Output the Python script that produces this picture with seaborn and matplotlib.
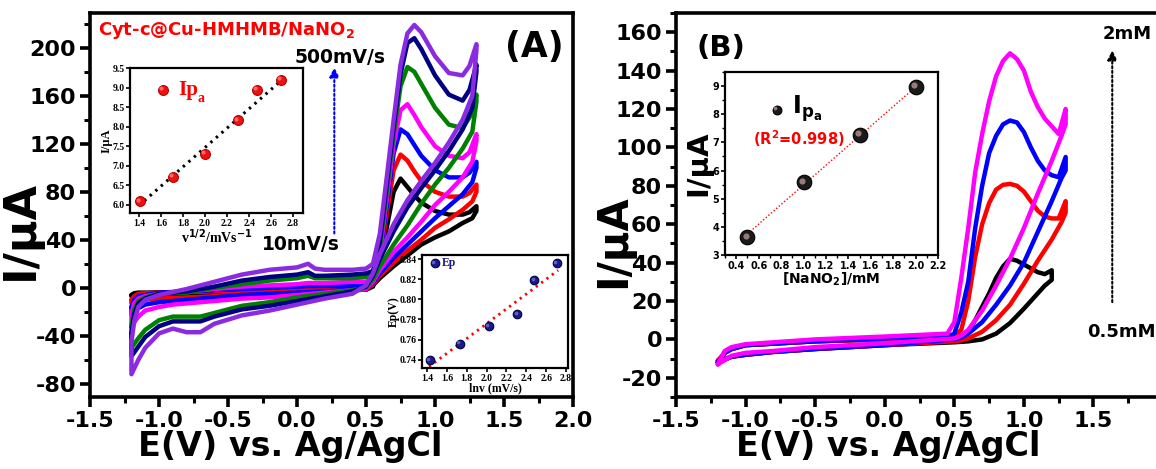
import matplotlib
matplotlib.use("Agg")
import matplotlib.pyplot as plt
import matplotlib.transforms as mtransforms
import numpy as np
import pandas as pd
import seaborn as sns

# ---------------- panel A : scan rate series (10 -> 500 mV/s) ----------------
E_A_fwd = [-1.2, -1.18, -1.15, -1.1, -1.0, -0.8, -0.6, -0.4, -0.2, 0.0, 0.08, 0.13, 0.2, 0.4, 0.5,
           0.55, 0.6, 0.65, 0.7, 0.75, 0.8, 0.85, 0.9, 1.0, 1.1, 1.2, 1.25, 1.3]
E_A_rev = [1.3, 1.27, 1.2, 1.1, 1.0, 0.9, 0.8, 0.7, 0.6, 0.55, 0.5, 0.4, 0.2, 0.0, -0.2, -0.4,
           -0.6, -0.7, -0.8, -0.9, -1.0, -1.1, -1.15, -1.2]

A_colors = ["black", "red", "blue", "magenta", "green", "navy", "#8a2be2"]

A_fwd = [
    [-6, -4.5, -4, -4, -3.8, -3.5, -3, -3, -2.5, -2.5, -2, -2, -2, -1.8, -1.5,
     1, 20, 50, 80, 91, 84, 77, 71, 64, 61, 61, 63, 68],
    [-10, -7, -5, -4.5, -4, -3.5, -3, -2.5, -2, -1.5, -1, -1, -1, -0.5, 0,
     3, 22, 62, 98, 111, 106, 97, 89, 80, 76, 76, 79, 86],
    [-16, -10, -7, -6, -4, -3, -2, -1, 0, 1, 1.5, 1.5, 1.5, 2, 2.5,
     5, 26, 68, 112, 132, 128, 119, 110, 98, 92, 92, 96, 105],
    [-22, -13, -9, -7, -5, -3, -1, 1, 2, 3, 4, 4, 4, 5, 5,
     8, 29, 74, 120, 148, 153, 144, 134, 118, 110, 108, 113, 128],
    [-32, -18, -11, -8, -5, -4, 0, 3, 6, 8, 10, 8, 8, 8, 9,
     11, 33, 80, 128, 168, 184, 180, 170, 150, 136, 133, 142, 161],
    [-38, -22, -13, -9, -5, -3, 1, 6, 9, 11, 13, 10, 10, 11, 12,
     14, 38, 86, 134, 178, 204, 208, 199, 177, 161, 156, 165, 186],
    [-45, -28, -16, -10, -6, -1, 5, 11, 15, 17, 20, 16, 15, 15, 16,
     20, 45, 92, 140, 186, 212, 219, 213, 193, 179, 177, 185, 203],
]
A_rev = [
    [64, 58, 54, 47, 42, 36, 27, 18, 8, 2, -1.5, -2, -3, -3.5, -4, -4.5,
     -5, -5, -5.5, -5.5, -6, -6, -6.5, -7],
    [80, 72, 65, 57, 50, 40, 31, 21, 10, 3, -1.5, -2, -3, -4, -5, -6,
     -7, -7.5, -8, -8.5, -9, -10, -11, -13],
    [100, 88, 78, 68, 58, 47, 36, 25, 12, 4, -1, -1.5, -3, -4, -5, -6,
     -8, -9, -10, -11, -12, -14, -17, -21],
    [122, 105, 92, 80, 69, 55, 42, 30, 15, 5, -1, -2, -4, -6, -8, -9,
     -11, -12, -13, -14, -16, -19, -24, -32],
    [155, 130, 116, 100, 86, 70, 52, 36, 18, 7, 0, -2, -5, -8, -12, -15,
     -21, -24, -24, -24, -27, -35, -42, -50],
    [180, 150, 132, 114, 98, 83, 67, 47, 24, 10, 1, -3, -7, -11, -15, -18,
     -24, -28, -28, -28, -32, -41, -49, -57],
    [198, 160, 140, 121, 104, 89, 73, 53, 28, 12, 2, -5, -9, -14, -19, -23,
     -30, -37, -37, -34, -38, -50, -60, -72],
]

# inset A1 : Ipa vs v^1/2
ipa_x = [1.41, 1.71, 2.0, 2.3, 2.47, 2.69]
ipa_y = [6.09, 6.71, 7.31, 8.16, 8.94, 9.2]
ipa_fit_x = [1.4, 2.7]
ipa_fit_y = [5.98, 9.2]

# inset A2 : Ep vs ln v
ep_x = [1.43, 1.73, 2.02, 2.31, 2.48, 2.71]
ep_y = [0.7393, 0.7559, 0.7731, 0.785, 0.8191, 0.836]
ep_fit_x = [1.42, 2.72]
ep_fit_y = [0.733, 0.829]

# ---------------- panel B : NaNO2 concentration series ----------------
E_B_fwd = [-1.2, -1.15, -1.1, -1.0, -0.5, 0.0, 0.45, 0.5, 0.55, 0.6, 0.65, 0.7, 0.75, 0.8,
           0.85, 0.9, 0.95, 1.0, 1.05, 1.1, 1.15, 1.2, 1.25, 1.3]
E_B_rev = [1.3, 1.27, 1.2, 1.1, 1.0, 0.9, 0.8, 0.7, 0.6, 0.55, 0.5, 0.0, -0.5, -0.8, -1.0, -1.1, -1.2]
E_B0_fwd = [-1.2, -1.15, -1.1, -1.0, -0.5, 0.0, 0.45, 0.5, 0.55, 0.6, 0.65, 0.7, 0.75, 0.8,
            0.85, 0.9, 0.95, 1.0, 1.05, 1.1, 1.15, 1.2]
E_B0_rev = [1.2, 1.15, 1.1, 1.0, 0.9, 0.8, 0.7, 0.6, 0.5, 0.0, -0.5, -0.8, -1.0, -1.1, -1.2]

B0_fwd = [-12, -7, -5, -3, -1, 0, 0.5, 0.5, 1, 4, 10, 17, 24, 32, 38, 42, 41, 39, 37, 35, 34, 36]
B0_rev = [31, 28, 24, 16, 8.5, 3, 0, -1, -1.5, -3, -5, -6.5, -8, -9, -12]
B1_fwd = [-11, -7, -5, -3, -1, 0, 1, 1.5, 5, 20, 43, 60, 71, 78, 80.5, 81, 80, 77, 72, 67, 64, 63, 63, 72]
B1_rev = [66, 61, 52, 41, 29, 18, 10, 4, 0.5, -0.5, -1, -3, -5, -6.5, -8, -9, -11]
B2_fwd = [-12, -7, -5, -3, -1, 0.5, 1.5, 3, 14, 30, 58, 80, 97, 106, 112, 114, 113, 108, 100, 93, 88,
          85.5, 84.5, 95]
B2_rev = [88, 84, 72, 56, 40, 28, 18, 9, 3, 1, 0, -3, -5, -6.5, -8, -9, -12]
B3_fwd = [-13, -6, -4, -2.5, 0, 1.5, 3, 9, 32, 58, 87, 107, 124, 137, 145, 149, 146, 140, 129, 121,
          115, 111, 107, 120]
B3_rev = [112, 106, 93, 76, 58, 42, 28, 15, 5, 2, 0.5, -2, -4, -6, -7, -8.5, -13]

# inset B : Ipa vs [NaNO2]
conc = [0.5, 1.0, 1.5, 2.0]
conc_ipa = [3.63, 5.58, 7.26, 8.98]
conc_fit_y = [3.75, 8.97]


sns.set_style("ticks")
plt.rcParams["font.family"] = ["DejaVu Sans"]
plt.rcParams["font.weight"] = "bold"
plt.rcParams["axes.labelweight"] = "bold"
plt.rcParams["mathtext.fontset"] = "custom"
plt.rcParams["mathtext.rm"] = "DejaVu Sans:bold"
plt.rcParams["mathtext.it"] = "DejaVu Sans:bold"
plt.rcParams["mathtext.bf"] = "DejaVu Sans:bold"
for key in ["text.color", "axes.labelcolor", "xtick.color", "ytick.color", "axes.edgecolor"]:
    plt.rcParams[key] = "black"

fig = plt.figure(figsize=(11.56, 4.69), dpi=100)

SERIF = "Liberation Serif"


def cv_loop(ax, ef, i_f, er, i_r, color, lw=3.2):
    x = list(ef) + list(er) + [ef[0]]
    y = list(i_f) + list(i_r) + [i_f[0]]
    df = pd.DataFrame({"E": x, "I": y})
    sns.lineplot(data=df, x="E", y="I", sort=False, estimator=None, color=color,
                 lw=lw, ax=ax, solid_joinstyle="round", solid_capstyle="round")


def spheres(ax, x, y, color, size, edge, hl="white"):
    sns.scatterplot(x=x, y=y, color=color, s=size, edgecolor=edge, linewidth=0.8, ax=ax, zorder=5)
    off = mtransforms.offset_copy(ax.transData, fig=fig, x=-1.2, y=1.2, units="points")
    ax.scatter(x, y, s=size * 0.18, color=hl, alpha=0.55, zorder=6, linewidths=0,
               transform=off)


def style_main(ax, xlab_x, ylab_y, ylab_x, ylab_size):
    for sp in ax.spines.values():
        sp.set_linewidth(2.6)
    ax.tick_params(which="major", direction="out", length=7, width=2.6, labelsize=16,
                   top=False, right=False, pad=3)
    ax.tick_params(which="minor", direction="out", length=4, width=2.2, top=False, right=False)
    ax.set_xlabel("E(V) vs. Ag/AgCl", fontsize=24)
    ax.set_ylabel("I/\u03bcA", fontsize=ylab_size)
    ax.xaxis.set_label_coords(xlab_x, -0.085)
    ax.yaxis.set_label_coords(ylab_x, ylab_y)


def style_inset(ax, serif):
    for sp in ax.spines.values():
        sp.set_linewidth(1.6)
    ax.tick_params(which="major", direction="out", length=3, width=1.2, labelsize=7, pad=1)
    ax.tick_params(which="minor", direction="out", length=2, width=1.0)
    if serif:
        for lab in ax.get_xticklabels() + ax.get_yticklabels():
            lab.set_fontfamily(SERIF)


# ================= panel A =================
axA = fig.add_axes([0.0779, 0.1535, 0.4178, 0.8188])
for col, f, r in zip(A_colors, A_fwd, A_rev):
    cv_loop(axA, E_A_fwd, f, E_A_rev, r, col)
axA.set_xlim(-1.5, 2.0)
axA.set_ylim(-91, 229)
axA.set_xticks(np.arange(-1.5, 2.01, 0.5))
axA.set_xticks(np.arange(-1.5, 2.01, 0.25), minor=True)
axA.set_yticks(np.arange(-80, 201, 40))
axA.set_yticks(np.arange(-80, 221, 20), minor=True)
axA.set_xticklabels(["-1.5", "-1.0", "-0.5", "0.0", "0.5", "1.0", "1.5", "2.0"])
axA.set_yticklabels(["-80", "-40", "0", "40", "80", "120", "160", "200"])
style_main(axA, 0.414, 0.435, -0.099, 32)

axA.text(-1.44, 214, "Cyt-c@Cu-HMHMB/NaNO$_2$", color="red", fontsize=13, va="center", ha="left")
axA.text(1.72, 201, "(A)", fontsize=25, ha="center", va="center")
axA.text(0.31, 192, "500mV/s", fontsize=13.5, ha="center", va="center")
axA.text(0.03, 36, "10mV/s", fontsize=13.5, ha="center", va="center")
axA.annotate("", xy=(0.27, 186), xytext=(0.27, 43),
             arrowprops=dict(arrowstyle="-|>", color="blue", lw=1.5, linestyle=(0, (1, 1.2)),
                             mutation_scale=14))

# inset A1
ax1 = fig.add_axes([0.1125, 0.5458, 0.1497, 0.3092])
sns.lineplot(x=ipa_fit_x, y=ipa_fit_y, color="black", lw=2.2, linestyle=(0, (0.8, 1.6)), ax=ax1)
spheres(ax1, ipa_x, ipa_y, "#ee1111", 50, "#b00000", "#ffb0b0")
spheres(ax1, [1.62], [8.94], "#ee1111", 50, "#b00000", "#ffb0b0")
ax1.text(1.76, 8.95, "Ip", color="red", fontsize=15, family=SERIF, va="center")
ax1.text(1.93, 8.72, "a", color="red", fontsize=10, family=SERIF, va="center")
ax1.set_xlim(1.32, 2.89)
ax1.set_ylim(5.79, 9.5)
ax1.set_xticks(np.arange(1.4, 2.81, 0.2))
ax1.set_yticks(np.arange(6.0, 9.51, 0.5))
ax1.set_xticklabels(["%.1f" % v for v in np.arange(1.4, 2.81, 0.2)])
ax1.set_yticklabels(["%.1f" % v for v in np.arange(6.0, 9.51, 0.5)])
style_inset(ax1, True)
ax1.set_ylabel("I/\u03bcA", fontsize=9, family=SERIF, labelpad=0)
ax1.set_xlabel("v$^{1/2}$/mVs$^{-1}$", fontsize=10, family=SERIF, labelpad=0)

# inset A2
ax2 = fig.add_axes([0.3651, 0.2154, 0.1263, 0.241])
sns.lineplot(x=ep_fit_x, y=ep_fit_y, color="red", lw=2.0, linestyle=(0, (0.8, 1.6)), ax=ax2)
spheres(ax2, ep_x, ep_y, "#1a1a8c", 38, "#000040", "#9999ff")
spheres(ax2, [1.48], [0.836], "#1a1a8c", 38, "#000040", "#9999ff")
ax2.text(1.55, 0.8365, "Ep", color="#1a1a8c", fontsize=8.5, family=SERIF, va="center")
ax2.set_xlim(1.35, 2.82)
ax2.set_ylim(0.7317, 0.8443)
ax2.set_xticks(np.arange(1.4, 2.81, 0.2))
ax2.set_yticks(np.arange(0.74, 0.841, 0.02))
ax2.set_xticklabels(["%.1f" % v for v in np.arange(1.4, 2.81, 0.2)])
ax2.set_yticklabels(["%.2f" % v for v in np.arange(0.74, 0.841, 0.02)])
style_inset(ax2, True)
ax2.set_ylabel("Ep(V)", fontsize=8.5, family=SERIF, labelpad=0)
ax2.set_xlabel("lnv (mV/s)", fontsize=8.5, family=SERIF, labelpad=0)

# ================= panel B =================
axB = fig.add_axes([0.5848, 0.1535, 0.4213, 0.8188])
cv_loop(axB, E_B0_fwd, B0_fwd, E_B0_rev, B0_rev, "black")
cv_loop(axB, E_B_fwd, B1_fwd, E_B_rev, B1_rev, "red")
cv_loop(axB, E_B_fwd, B2_fwd, E_B_rev, B2_rev, "blue")
cv_loop(axB, E_B_fwd, B3_fwd, E_B_rev, B3_rev, "magenta")
axB.set_xlim(-1.5, 2.0)
axB.set_ylim(-30, 170)
axB.set_xticks(np.arange(-1.5, 2.01, 0.5))
axB.set_xticks(np.arange(-1.5, 2.01, 0.25), minor=True)
axB.set_yticks(np.arange(-20, 161, 20))
axB.set_yticks(np.arange(-30, 171, 10), minor=True)
# the right end of this panel is cut by the figure edge, so 2.0 is not shown
axB.set_xticklabels(["-1.5", "-1.0", "-0.5", "0.0", "0.5", "1.0", "1.5", ""])
axB.set_yticklabels([str(v) for v in range(-20, 161, 20)])
style_main(axB, 0.435, 0.405, -0.086, 30)

axB.text(-1.18, 152, "(B)", fontsize=21, ha="center", va="center")
axB.text(1.74, 159, "2mM", fontsize=13, ha="center", va="center")
axB.text(1.70, 4, "0.5mM", fontsize=13, ha="center", va="center")
axB.annotate("", xy=(1.635, 152), xytext=(1.635, 18),
             arrowprops=dict(arrowstyle="-|>", color="black", lw=1.5, linestyle=(0, (1, 1.2)),
                             mutation_scale=14))

# inset B
ax3 = fig.add_axes([0.6272, 0.4563, 0.1843, 0.3902])
sns.lineplot(x=[0.5, 2.0], y=conc_fit_y, color="red", lw=1.0, linestyle=(0, (1, 1.5)), ax=ax3)
spheres(ax3, conc, conc_ipa, "#1a1a1a", 110, "black", "#ffcccc")
spheres(ax3, [0.76], [8.15], "#1a1a1a", 40, "black", "#ffcccc")
ax3.text(0.9, 8.2, "I$_{\\mathregular{p_a}}$", fontsize=17, va="center")
ax3.text(0.96, 7.15, "(R$^2$=0.998)", color="red", fontsize=10.5, ha="center", va="center")
ax3.set_xlim(0.3, 2.2)
ax3.set_ylim(3, 9.5)
ax3.set_xticks(np.arange(0.4, 2.21, 0.2))
ax3.set_xticks(np.arange(0.3, 2.21, 0.1), minor=True)
ax3.set_yticks(np.arange(3, 9.1, 1))
ax3.set_yticks(np.arange(3, 9.6, 0.5), minor=True)
ax3.set_xticklabels(["%.1f" % v for v in np.arange(0.4, 2.21, 0.2)])
ax3.set_yticklabels([str(v) for v in range(3, 10)])
style_inset(ax3, False)
ax3.set_ylabel("I/\u03bcA", fontsize=21, labelpad=0)
ax3.set_xlabel("[NaNO$_2$]/mM", fontsize=10, labelpad=0)

fig.savefig("out.png", dpi=100, facecolor="white")
